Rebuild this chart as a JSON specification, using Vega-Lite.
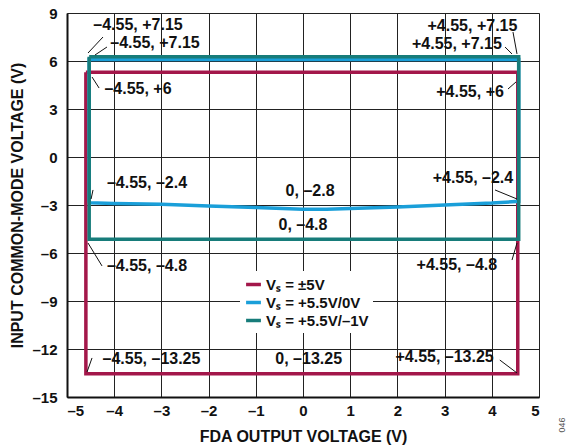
{
  "$schema": "https://vega.github.io/schema/vega-lite/v6.json",
  "width": 472,
  "height": 384,
  "autosize": "none",
  "padding": {"left": 67, "top": 13, "right": 32, "bottom": 49},
  "background": "white",
  "datasets": {
    "curves": [
      {"series": "±5V", "k": 0, "x": -4.6, "y": 5.3},
      {"series": "±5V", "k": 1, "x": 4.55, "y": 5.3},
      {"series": "±5V", "k": 2, "x": 4.55, "y": -13.55},
      {"series": "±5V", "k": 3, "x": -4.6, "y": -13.55},
      {"series": "±5V", "k": 4, "x": -4.6, "y": 5.3},
      {"series": "+5.5V/0V", "k": 0, "x": -4.53, "y": -2.86},
      {"series": "+5.5V/0V", "k": 1, "x": -4.53, "y": 6.1},
      {"series": "+5.5V/0V", "k": 2, "x": 4.57, "y": 6.1},
      {"series": "+5.5V/0V", "k": 3, "x": 4.57, "y": -2.77},
      {"series": "+5.5V/0V", "k": 4, "x": 4, "y": -2.88},
      {"series": "+5.5V/0V", "k": 5, "x": 3, "y": -3.0},
      {"series": "+5.5V/0V", "k": 6, "x": 2, "y": -3.12},
      {"series": "+5.5V/0V", "k": 7, "x": 1, "y": -3.22},
      {"series": "+5.5V/0V", "k": 8, "x": 0.5, "y": -3.26},
      {"series": "+5.5V/0V", "k": 9, "x": 0, "y": -3.26},
      {"series": "+5.5V/0V", "k": 10, "x": -1, "y": -3.16},
      {"series": "+5.5V/0V", "k": 11, "x": -2, "y": -3.06},
      {"series": "+5.5V/0V", "k": 12, "x": -3, "y": -2.96},
      {"series": "+5.5V/0V", "k": 13, "x": -4, "y": -2.9},
      {"series": "+5.5V/0V", "k": 14, "x": -4.53, "y": -2.86},
      {"series": "+5.5V/–1V", "k": 0, "x": -4.53, "y": 6.27},
      {"series": "+5.5V/–1V", "k": 1, "x": 4.57, "y": 6.27},
      {"series": "+5.5V/–1V", "k": 2, "x": 4.57, "y": -5.14},
      {"series": "+5.5V/–1V", "k": 3, "x": -4.53, "y": -5.14},
      {"series": "+5.5V/–1V", "k": 4, "x": -4.53, "y": 6.27}
    ],
    "leaders": [
      {"x": -4.555, "y": 6.5, "x2": -4.237, "y2": 7.5},
      {"x": -4.407, "y": 6.375, "x2": -4.153, "y2": 6.875},
      {"x": -4.47, "y": 5.0, "x2": -4.32, "y2": 4.31},
      {"x": 4.449, "y": 7.81, "x2": 4.534, "y2": 6.44},
      {"x": 4.28, "y": 6.875, "x2": 4.428, "y2": 6.44},
      {"x": 4.343, "y": 4.25, "x2": 4.513, "y2": 4.69},
      {"x": -4.449, "y": -2.06, "x2": -4.49, "y2": -2.625},
      {"x": 4.068, "y": -2.06, "x2": 4.534, "y2": -2.625},
      {"x": -4.555, "y": -5.375, "x2": -4.258, "y2": -6.81},
      {"x": 4.534, "y": -5.375, "x2": 4.428, "y2": -6.44},
      {"x": -4.576, "y": -13.44, "x2": -4.47, "y2": -12.56},
      {"x": 4.17, "y": -12.69, "x2": 4.534, "y2": -13.5}
    ],
    "labels": [
      {"t": "–4.55, +7.15", "x": -3.496, "y": 8.25},
      {"t": "–4.55, +7.15", "x": -3.136, "y": 7.125},
      {"t": "–4.55, +6", "x": -3.496, "y": 4.25},
      {"t": "+4.55, +7.15", "x": 3.59, "y": 8.19},
      {"t": "+4.55, +7.15", "x": 3.26, "y": 7.06},
      {"t": "+4.55, +6", "x": 3.54, "y": 4.06},
      {"t": "–4.55, –2.4", "x": -3.305, "y": -1.625},
      {"t": "0, –2.8", "x": 0.15, "y": -2.125},
      {"t": "0, –4.8", "x": 0.0, "y": -4.25},
      {"t": "+4.55, –2.4", "x": 3.6, "y": -1.31},
      {"t": "–4.55, –4.8", "x": -3.305, "y": -6.81},
      {"t": "+4.55, –4.8", "x": 3.26, "y": -6.75},
      {"t": "–4.55, –13.25", "x": -3.21, "y": -12.625},
      {"t": "0, –13.25", "x": 0.12, "y": -12.625},
      {"t": "+4.55, –13.25", "x": 3.0, "y": -12.5}
    ],
    "code": [{"t": "046", "x": 5.49, "y": -16.75}]
  },
  "layer": [
    {
      "data": {"name": "curves"},
      "mark": {"type": "line", "strokeWidth": 3.5},
      "encoding": {
        "x": {"field": "x", "type": "quantitative", "scale": {"domain": [-5, 5], "nice": false, "zero": false},
          "axis": {"title": "FDA OUTPUT VOLTAGE (V)", "values": [-5, -4, -3, -2, -1, 0, 1, 2, 3, 4, 5],
            "grid": true, "gridColor": "#222", "domainColor": "#111", "domainWidth": 2, "ticks": false, "labelPadding": 6, "titlePadding": 10,
            "labelFont": "Liberation Sans", "labelFontSize": 15, "labelFontWeight": "bold", "labelColor": "#111",
            "titleFont": "Liberation Sans", "titleFontSize": 16, "titleFontWeight": "bold", "titleColor": "#111",
            "labelExpr": "replace(datum.label, '−', '–')"}},
        "y": {"field": "y", "type": "quantitative", "scale": {"domain": [-15, 9], "nice": false, "zero": false},
          "axis": {"title": "INPUT COMMON-MODE VOLTAGE (V)", "values": [-15, -12, -9, -6, -3, 0, 3, 6, 9],
            "grid": true, "gridColor": "#222", "domainColor": "#111", "domainWidth": 2, "ticks": false, "labelPadding": 10, "titlePadding": 6,
            "labelFont": "Liberation Sans", "labelFontSize": 15, "labelFontWeight": "bold", "labelColor": "#111",
            "titleFont": "Liberation Sans", "titleFontSize": 16, "titleFontWeight": "bold", "titleColor": "#111",
            "labelExpr": "replace(datum.label, '−', '–')"}},
        "order": {"field": "k", "type": "quantitative"},
        "color": {"field": "series", "type": "nominal",
          "scale": {"domain": ["±5V", "+5.5V/0V", "+5.5V/–1V"], "range": ["#A3174A", "#1A9FD9", "#177C7A"]},
          "legend": {
            "title": null, "orient": "none", "legendX": 173, "legendY": 258,
            "padding": 4, "fillColor": "white", "symbolType": "stroke", "symbolStrokeWidth": 3.5,
            "symbolSize": 220, "labelFont": "Liberation Sans", "labelFontSize": 15, "labelFontWeight": "bold",
            "labelColor": "#111", "labelOffset": 3, "rowPadding": -2,
            "labelExpr": "'Vₛ = ' + datum.label"
          }
        }
      }
    },
    {
      "data": {"name": "leaders"},
      "mark": {"type": "rule", "color": "#111", "strokeWidth": 1},
      "encoding": {"x": {"field": "x", "type": "quantitative"}, "y": {"field": "y", "type": "quantitative"}, "x2": {"field": "x2"}, "y2": {"field": "y2"}}
    },
    {
      "data": {"name": "labels"},
      "mark": {"type": "text", "fontSize": 16, "fontWeight": "bold", "font": "Liberation Sans", "color": "#111", "baseline": "middle", "align": "center"},
      "encoding": {"x": {"field": "x", "type": "quantitative"}, "y": {"field": "y", "type": "quantitative"}, "text": {"field": "t"}}
    },
    {
      "data": {"name": "code"},
      "mark": {"type": "text", "fontSize": 9, "font": "Liberation Sans", "color": "#555", "angle": 270, "baseline": "middle", "align": "center", "clip": false},
      "encoding": {"x": {"field": "x", "type": "quantitative"}, "y": {"field": "y", "type": "quantitative"}, "text": {"field": "t"}}
    }
  ]
}
